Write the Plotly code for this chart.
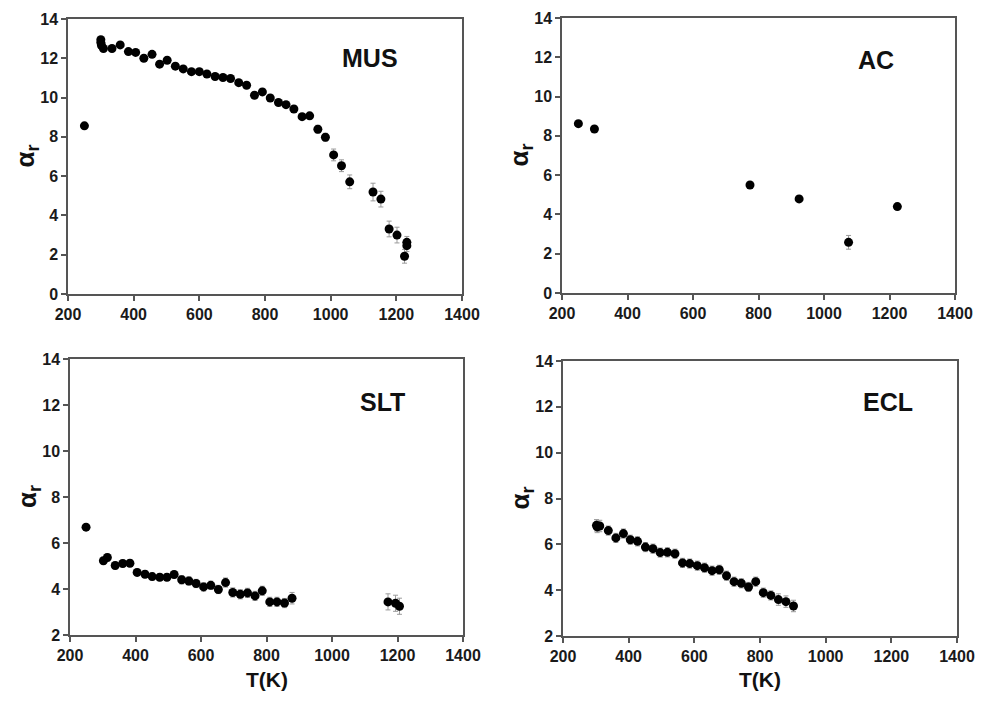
import plotly.graph_objects as go

# ---- data ----
mus_T = [250, 300, 300, 302, 308, 334, 359, 384, 406, 431, 456, 479, 502, 527, 551, 576, 600, 623, 648,
         672, 695, 720, 744, 768, 792, 816, 841, 864, 888, 913, 936, 961, 984, 1009, 1033, 1058,
         1129, 1153, 1178, 1202, 1232, 1232, 1225]
mus_a = [8.56, 12.95, 12.8, 12.65, 12.5, 12.5, 12.68, 12.34, 12.3, 12.0, 12.2, 11.7, 11.9, 11.6, 11.46,
         11.32, 11.32, 11.2, 11.07, 11.02, 10.97, 10.76, 10.63, 10.12, 10.29, 9.98, 9.75, 9.64, 9.42,
         9.03, 9.07, 8.39, 7.98, 7.08, 6.53, 5.71, 5.19, 4.83, 3.31, 3.0, 2.63, 2.46, 1.92]
mus_e = [0.1, 0.1, 0.1, 0.1, 0.1, 0.1, 0.1, 0.1, 0.1, 0.1, 0.1, 0.1, 0.1, 0.1, 0.1,
         0.1, 0.1, 0.1, 0.1, 0.1, 0.1, 0.1, 0.1, 0.15, 0.15, 0.15, 0.15, 0.15, 0.15,
         0.15, 0.15, 0.2, 0.2, 0.3, 0.3, 0.35, 0.45, 0.4, 0.4, 0.4, 0.3, 0.3, 0.35]

ac_T = [250, 299, 774, 924, 1075, 1224]
ac_a = [8.62, 8.35, 5.5, 4.79, 2.58, 4.4]
ac_e = [0.1, 0.1, 0.12, 0.15, 0.35, 0.15]

slt_T = [249, 302, 314, 338, 361, 383, 405, 429, 451, 474, 496, 518, 541, 563, 585, 608, 630, 653,
         675, 697, 720, 742, 765, 787, 810, 832, 855, 878, 1171, 1194, 1206]
slt_a = [6.69, 5.23, 5.37, 5.02, 5.11, 5.12, 4.72, 4.64, 4.54, 4.51, 4.51, 4.63, 4.40, 4.35, 4.24,
         4.09, 4.16, 3.98, 4.28, 3.85, 3.77, 3.83, 3.70, 3.92, 3.44, 3.44, 3.39, 3.60, 3.44, 3.38, 3.25]
slt_e = [0.1, 0.15, 0.15, 0.15, 0.15, 0.15, 0.15, 0.15, 0.15, 0.15, 0.15, 0.15, 0.18, 0.18, 0.18,
         0.18, 0.18, 0.18, 0.2, 0.2, 0.2, 0.2, 0.2, 0.2, 0.2, 0.2, 0.2, 0.25, 0.35, 0.35, 0.35]

ecl_T = [302, 304, 312, 338, 361, 384, 405, 427, 451, 474, 496, 518, 541, 564, 586, 609, 631, 654,
         676, 698, 721, 743, 765, 787, 810, 833, 856, 879, 902]
ecl_a = [6.83, 6.76, 6.80, 6.60, 6.28, 6.47, 6.20, 6.13, 5.88, 5.81, 5.64, 5.65, 5.59, 5.19, 5.16,
         5.07, 4.98, 4.85, 4.89, 4.63, 4.37, 4.30, 4.14, 4.37, 3.89, 3.77, 3.59, 3.50, 3.31]
ecl_e = [0.25, 0.25, 0.25, 0.2, 0.2, 0.2, 0.2, 0.2, 0.2, 0.2, 0.2, 0.2, 0.2, 0.2, 0.2,
         0.2, 0.2, 0.2, 0.2, 0.2, 0.2, 0.2, 0.2, 0.2, 0.2, 0.2, 0.25, 0.25, 0.25]

panel_names = ["MUS", "AC", "SLT", "ECL"]
x_ticks = [200, 400, 600, 800, 1000, 1200, 1400]

# page has an 8px body margin; figure drawn inside it
OFF = 8
W, H = 987 - 2 * OFF, 701 - 2 * OFF
FONT = "Arial, Liberation Sans, sans-serif"

series = [(mus_T, mus_a, mus_e), (ac_T, ac_a, ac_e), (slt_T, slt_a, slt_e), (ecl_T, ecl_a, ecl_e)]
# target pixel boxes in the window (left, top, right, bottom)
boxes = [(68, 19, 462, 294), (562, 18, 955, 293), (70, 359, 463, 635), (563, 361, 957, 636)]
yranges = [(0, 14), (0, 14), (2, 14), (2, 14)]
# label placement (data coords within each panel)
label_pos = [(1120, 12.0), (1160, 11.86), (1154, 12.13), (1190, 12.2)]


def px(v):
    return (v - OFF) / W


def py(v):
    return 1 - (v - OFF) / H


fig = go.Figure()
for i, ((xs, ys, es), box, yr, name, lp) in enumerate(zip(series, boxes, yranges, panel_names, label_pos)):
    n = "" if i == 0 else str(i + 1)
    fig.add_trace(go.Scatter(
        x=xs, y=ys, mode="markers", xaxis="x" + n, yaxis="y" + n,
        marker=dict(color="black", size=9),
        error_y=dict(type="data", array=es, color="#9a9a9a", thickness=1, width=2.5),
        showlegend=False, hoverinfo="x+y"))
    l, t, r, b = box
    common = dict(showgrid=False, zeroline=False, showline=True, mirror=True,
                  linecolor="#555555", linewidth=1.5, ticks="outside", ticklen=5,
                  tickcolor="#555555", tickwidth=1.5, automargin=False,
                  tickfont=dict(family=FONT, size=16, color="#1a1a1a", weight="bold"),
                  fixedrange=True)
    ax = dict(domain=[px(l), px(r)], range=[200, 1400], tickvals=x_ticks,
              anchor="y" + n, **common)
    ay = dict(domain=[py(b), py(t)], range=list(yr), dtick=2,
              anchor="x" + n, **common)
    fig.update_layout(**{"xaxis" + n: ax, "yaxis" + n: ay})
    # panel label
    fig.add_annotation(text=name, x=lp[0], y=lp[1], xanchor="center", yanchor="middle",
                       xref="x" + n, yref="y" + n, showarrow=False,
                       font=dict(family=FONT, size=25, color="#111111", weight="bold"))
    # y axis title
    fig.add_annotation(text="α<sub>r</sub>", x=px(l - 42), y=py((t + b) / 2),
                       xanchor="center", yanchor="middle",
                       xref="paper", yref="paper", showarrow=False, textangle=-90,
                       font=dict(family=FONT, size=26, color="#111111", weight="bold"))
    if i >= 2:
        fig.add_annotation(text="T(K)", x=px((l + r) / 2), y=py(679),
                           xanchor="center", yanchor="middle",
                           xref="paper", yref="paper", showarrow=False,
                           font=dict(family=FONT, size=21, color="#111111", weight="bold"))

fig.update_layout(width=W, height=H, margin=dict(l=0, r=0, t=0, b=0),
                  paper_bgcolor="white", plot_bgcolor="white")
fig.write_html("out.html")
